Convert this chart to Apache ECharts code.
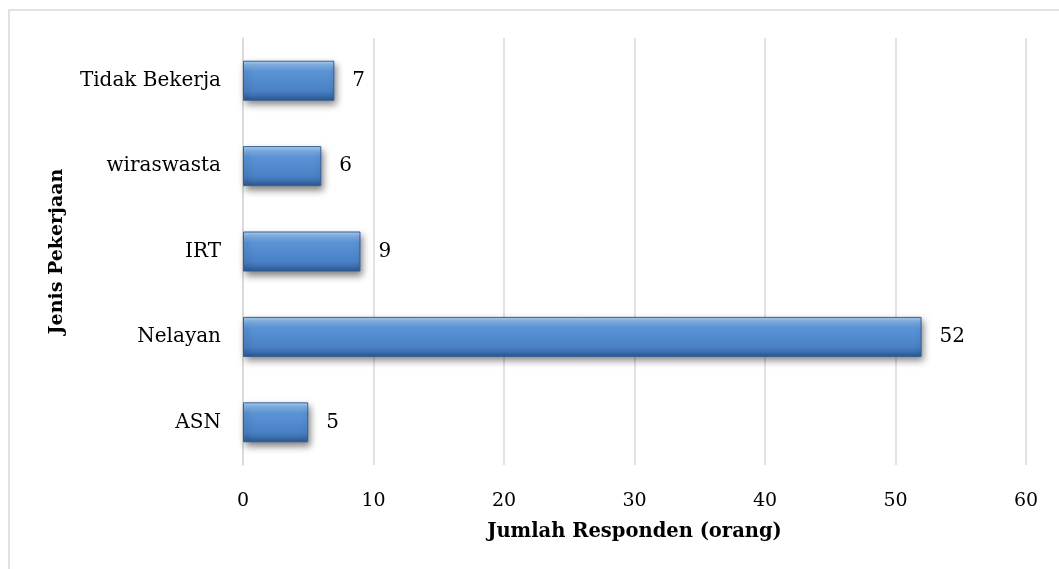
<!DOCTYPE html>
<html lang="en">
  <head>
    <meta charset="UTF-8" />
    <title>Jenis Pekerjaan</title>
    <style>
      body {
        margin: 0;
        overflow: hidden;
        background: #fff;
      }
    </style>
    <script src="https://cdn.jsdelivr.net/npm/echarts@6/dist/echarts.min.js"></script>
  </head>

  <body>
    <div id="chart" style="width: 1059px; height: 569px"></div>
    <script>
      // data, bottom to top
      var categories = ["ASN", "Nelayan", "IRT", "wiraswasta", "Tidak Bekerja"];
      var values = [5, 52, 9, 6, 7];
      var xTicks = [0, 10, 20, 30, 40, 50, 60];

      var font = "DejaVu Serif";

      var option = {
        backgroundColor: "#fff",
        animation: false,
        graphic: [
          {
            type: "rect",
            shape: { x: 9, y: 10, width: 1100, height: 600 },
            style: { fill: "none", stroke: "#d9d9d9", lineWidth: 1.5 },
            silent: true,
          },
        ],
        grid: {
          left: 243,
          right: 33,
          top: 38,
          bottom: 104,
        },
        xAxis: {
          type: "value",
          min: xTicks[0],
          max: xTicks[xTicks.length - 1],
          interval: 10,
          name: "Jumlah Responden (orang)",
          nameLocation: "middle",
          nameGap: 57,
          nameTextStyle: {
            fontFamily: font,
            fontWeight: "bold",
            fontSize: 19.5,
            color: "#000",
          },
          axisLine: { show: false },
          axisTick: { show: false },
          axisLabel: {
            fontFamily: font,
            fontSize: 19,
            color: "#000",
            margin: 27,
          },
          splitLine: { lineStyle: { color: "#d9d9d9", width: 1.5 } },
        },
        yAxis: {
          type: "category",
          data: categories,
          name: "Jenis Pekerjaan",
          nameLocation: "middle",
          nameGap: 176,
          nameRotate: 90,
          nameTextStyle: {
            fontFamily: font,
            fontWeight: "bold",
            fontSize: 19,
            color: "#000",
          },
          axisLine: { show: true, lineStyle: { color: "#d9d9d9", width: 1.5 } },
          axisTick: { show: false },
          axisLabel: {
            fontFamily: font,
            fontSize: 20,
            color: "#000",
            margin: 22,
          },
        },
        series: [
          {
            type: "bar",
            data: values,
            barWidth: 40,
            itemStyle: {
              color: {
                type: "linear",
                x: 0,
                y: 0,
                x2: 0,
                y2: 1,
                colorStops: [
                  { offset: 0, color: "#b3d6f7" },
                  { offset: 0.1, color: "#86b6ea" },
                  { offset: 0.28, color: "#5b94d7" },
                  { offset: 0.75, color: "#4a81c6" },
                  { offset: 0.86, color: "#3e71b2" },
                  { offset: 1, color: "#2c568d" },
                ],
              },
              borderColor: "#355f98",
              borderWidth: 1,
              shadowColor: "rgba(0,0,0,0.5)",
              shadowBlur: 7,
              shadowOffsetX: 2,
              shadowOffsetY: 4,
            },
            label: {
              show: true,
              position: "right",
              distance: 18,
              fontFamily: font,
              fontSize: 20,
              color: "#000",
            },
          },
        ],
      };

      var myChart = echarts.init(document.getElementById("chart"));
      myChart.setOption(option);
    </script>
  </body>
</html>
